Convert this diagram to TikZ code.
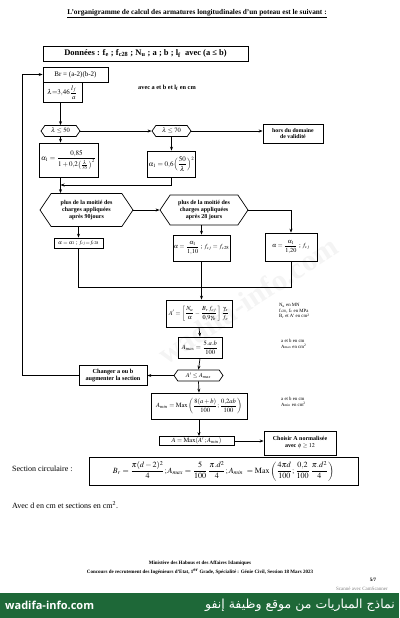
\documentclass[tikz,border=0pt]{standalone}
\usepackage{amsmath}
\usepackage{mathptmx}
\usepackage[no-math]{fontspec}
\setmainfont{Liberation Serif}
\newfontfamily\arabicfont[Script=Arabic]{DejaVu Sans}
\newfontfamily\bannerfont{Open Sans}
\TeXXeTstate=1
\usetikzlibrary{arrows.meta,shapes.symbols,calc}
\definecolor{bannergreen}{RGB}{30,104,56}
\tikzset{
  base/.style={font=\fontsize{6}{7}\selectfont, inner sep=1pt, align=center},
  box/.style={base, draw, line width=0.7pt},
  hexa/.style={base, draw, line width=0.7pt, signal, signal to=west and east, signal pointer angle=110},
  sz/.style 2 args={minimum width=#1pt, minimum height=#2pt},
  note/.style={font=\fontsize{4.8}{5.6}\selectfont, align=left, inner sep=0pt, anchor=west},
  arr/.style={-{Stealth[length=4pt,width=3pt]}, line width=0.7pt},
  ln/.style={line width=0.7pt},
  foot/.style={font=\fontsize{5}{6}\selectfont\bfseries, inner sep=0pt}
}
\begin{document}
\begin{tikzpicture}[x=1pt,y=-1pt]
\useasboundingbox (0,0) rectangle (399,618);
% watermark
\node[rotate=33, text=gray!9, font=\fontsize{30}{30}\selectfont\bfseries] (wm) at (248,300) {wadifa-info.com};
% title
\node[font=\fontsize{7.3}{8}\selectfont\bfseries, inner sep=0pt] (title) at (197,14) {\underline{L'organigramme de calcul des armatures longitudinales d'un poteau est le suivant :}};
% data
\node[box, sz={205}{15}, font=\fontsize{8.5}{10}\selectfont\bfseries] (don) at (145.5,53.5) {Données : f\textsubscript{e} ; f\textsubscript{c28} ; N\textsubscript{u} ; a ; b ; l\textsubscript{f}~ avec (a ≤ b)};
\node[box, sz={65}{15}, font=\fontsize{7}{8}\selectfont] (br) at (75.5,74.5) {Br = (a-2)(b-2)};
\node[box, sz={39}{20}, font=\fontsize{7}{8}\selectfont] (lam) at (62.5,92.5) {$\lambda{=}3{,}46\dfrac{l_f}{a}$};
\node[base, font=\fontsize{6.3}{7}\selectfont\bfseries] (avec) at (167,88) {avec a et b et l\textsubscript{f} en cm};
% slenderness
\node[hexa, sz={39}{11}, font=\fontsize{6.5}{7}\selectfont] (h50) at (60.5,131) {$\lambda\leq 50$};
\node[hexa, sz={39}{11}, font=\fontsize{6.5}{7}\selectfont] (h70) at (171.5,131) {$\lambda\leq 70$};
\node[box, sz={60}{19}, font=\fontsize{5.8}{6.8}\selectfont\bfseries] (hors) at (293,133.5) {hors du domaine\\de validité};
\node[box, sz={59}{34}, font=\fontsize{7}{8}\selectfont] (a1L) at (68.5,160) {$\alpha_1=\dfrac{0{,}85}{1+0{,}2\bigl(\frac{\lambda}{35}\bigr)^2}$};
\node[box, sz={47}{26}, font=\fontsize{7}{8}\selectfont] (a1R) at (171.5,164) {$\alpha_1=0{,}6\Bigl(\dfrac{50}{\lambda}\Bigr)^2$};
\coordinate (j) at (60.5,185);
% loads
\node[hexa, sz={93}{33}, signal pointer angle=112, font=\fontsize{6}{7}\selectfont\bfseries] (hex1) at (86.5,210) {plus de la moitié des\\charges appliquées\\après 90jours};
\node[hexa, sz={88}{30}, signal pointer angle=112, font=\fontsize{6}{7}\selectfont\bfseries] (hex2) at (204,210) {plus de la moitié des\\charges appliquées\\après 28 jours};
\node[box, sz={49}{10}, font=\fontsize{5.5}{6}\selectfont] (b1) at (78.5,243) {$\alpha=\alpha_1$ ; $f_{cj}{=}f_{c28}$};
\node[box, sz={55}{26}, font=\fontsize{6.2}{7}\selectfont] (b2) at (201.5,248) {$\alpha=\dfrac{\alpha_1}{1{,}10}$ ; $f_{cj}=f_{c28}$};
\node[box, sz={52}{28}, font=\fontsize{6.2}{7}\selectfont] (b3) at (291,247) {$\alpha=\dfrac{\alpha_1}{1{,}20}$ ; $f_{cj}$};
\coordinate (m) at (201.5,287);
% steel
\node[box, sz={66}{27}, font=\fontsize{6.2}{7}\selectfont] (Ap) at (199,313.5) {$A'=\left[\dfrac{N_u}{\alpha}-\dfrac{B_r\,f_{cj}}{0{,}9\gamma_b}\right]\dfrac{\gamma_s}{f_e}$};
\node[note] (n1) at (279,311) {N\textsubscript{u} en MN\\f\textsubscript{c28}, f\textsubscript{e} en MPa\\B\textsubscript{r} et A' en cm\textsuperscript{2}};
\node[box, sz={44}{21}, font=\fontsize{6.5}{7}\selectfont] (Amax) at (200,347.5) {$A_{max}=\dfrac{5.a.b}{100}$};
\node[note] (n2) at (281,344) {a et b en cm\\A\textsubscript{max} en cm\textsuperscript{2}};
\node[hexa, sz={49}{11}, font=\fontsize{6.2}{7}\selectfont] (hAm) at (198.5,375.5) {$A'\leq A_{max}$};
\node[box, sz={68}{20}, font=\fontsize{6.2}{7}\selectfont\bfseries] (chg) at (113,375.5) {Changer a ou b\\augmenter la section};
\coordinate (fb1) at (22,375.5);
\coordinate (fb2) at (22,74.5);
\node[box, sz={96}{26}, font=\fontsize{6.5}{7}\selectfont] (Amin) at (199,406) {$A_{min}=\mathrm{Max}\left(\dfrac{8(a+b)}{100};\dfrac{0{,}2ab}{100}\right)$};
\node[note] (n3) at (281,402) {a et b en cm\\A\textsubscript{min} en cm\textsuperscript{2}};
\node[box, sz={75}{9}, font=\fontsize{6.5}{7}\selectfont] (A) at (196.5,441) {$A=\mathrm{Max}(A'\,;A_{min})$};
\node[box, sz={72}{24}, font=\fontsize{6}{7}\selectfont\bfseries] (cho) at (300,443) {Choisir A normalisée\\avec $\boldsymbol{\phi\geq 12}$};
% circular section
\node[base, font=\fontsize{8}{9}\selectfont, anchor=west] (seclab) at (11,469) {Section circulaire :};
\node[box, sz={269}{28}, font=\fontsize{8}{9}\selectfont] (sec) at (223.5,471) {$B_r=\dfrac{\pi(d-2)^2}{4};A_{max}=\dfrac{5}{100}\,\dfrac{\pi.d^2}{4};A_{min}\ =\mathrm{Max}\left(\dfrac{4\pi d}{100};\dfrac{0{,}2}{100}\,\dfrac{\pi.d^2}{4}\right)$};
\node[base, font=\fontsize{8}{9}\selectfont, anchor=west] (avecd) at (11,505) {Avec d en cm et sections en cm\textsuperscript{2}.};
% footer
\node[foot] (f1) at (200,563) {Ministère des Habous et des Affaires Islamiques};
\node[foot] (f2) at (200,572) {Concours de recrutement des Ingénieurs d'Etat, 1\textsuperscript{er} Grade, Spécialité : Génie Civil, Session 18 Mars 2023};
\node[foot] (pg) at (373,580) {5/7};
\node[foot, font=\fontsize{5}{6}\selectfont, text=gray] (scan) at (362,589) {Scanné avec CamScanner};
% connectors
\draw[arr] (h50.north |- lam.south) -- (h50.north);
\draw[arr] (h50.east) -- (h70.west);
\draw[arr] (h70.east) -- (h70.east -| hors.west);
\draw[arr] (h50.south) -- (h50.south |- a1L.north);
\draw[arr] (h70.south) -- (h70.south |- a1R.north);
\draw[arr] (a1R.south) |- (j);
\draw[arr] (h50.south |- a1L.south) -- (h50.south |- hex1.north);
\draw[arr] (hex1.east) -- (hex2.west);
\draw[arr] (hex2.east) -| (b3.north);
\draw[arr] (b1.north |- hex1.south) -- (b1.north);
\draw[arr] (b2.north |- hex2.south) -- (b2.north);
\draw[ln] (b1.south) -- (b1.south |- m) -- (b3.south |- m) -- (b3.south);
\draw[arr] (b2.south) -- (b2.south |- Ap.north);
\draw[arr] (Ap.south) -- (Amax.north);
\draw[arr] (Amax.south) -- (hAm.north);
\draw[arr] (hAm.west) -- (chg.east);
\draw[arr] (chg.west) -- (fb1) -- (fb2) -- (br.west);
\draw[arr] (hAm.south) -- (Amin.north);
\draw[arr] (Amin.south) -- (Amin.south |- A.north);
\draw[arr] (A.east) -- (A.east -| cho.west);
% banner
\fill[bannergreen] (0,593) rectangle (399,618);
\node[text=white, font=\bannerfont\fontsize{11}{12}\selectfont\bfseries, inner sep=0pt, anchor=west] (web) at (5,605.5) {wadifa-info.com};
\node[text=white, font=\fontsize{12.5}{13}\selectfont, inner sep=0pt, anchor=east] (ar) at (395,605.5) {\arabicfont\beginR نماذج المباريات من موقع وظيفة إنفو\endR};
\end{tikzpicture}
\end{document}
